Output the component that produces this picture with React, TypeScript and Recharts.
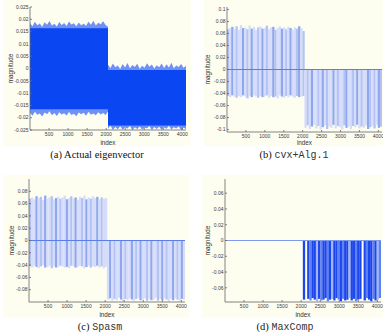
import React from "react"
import { ComposedChart, Area, Bar, Cell, XAxis, YAxis, ReferenceLine } from "recharts"

const xTicks = [500, 1000, 1500, 2000, 2500, 3000, 3500, 4000]

// (a) actual eigenvector, sampled envelope of the dense trace
const aIndex = [
  0, 64, 128, 192, 256, 320, 384, 448, 512, 576, 640, 704, 768, 832, 896, 960, 1024, 1088, 1152, 1216, 1280,
  1344, 1408, 1472, 1536, 1600, 1664, 1728, 1792, 1856, 1920, 1984, 2048,
  2048, 2112, 2176, 2240, 2304, 2368, 2432, 2496, 2560, 2624, 2688, 2752, 2816, 2880, 2944, 3008, 3072, 3136,
  3200, 3264, 3328, 3392, 3456, 3520, 3584, 3648, 3712, 3776, 3840, 3904, 3968, 4032, 4096,
]
const aUpper = [
  0.0185, 0.0172, 0.019, 0.0176, 0.0183, 0.017, 0.0188, 0.0178, 0.0193, 0.0175, 0.0182, 0.0171, 0.0189, 0.0177,
  0.0185, 0.0173, 0.0191, 0.0179, 0.0184, 0.0172, 0.0187, 0.0176, 0.0182, 0.0174, 0.019, 0.0178, 0.0194, 0.0175,
  0.0186, 0.018, 0.0192, 0.0177, 0.017,
  0.0015, 0.0002, 0.002, 0.0005, 0.0012, -0.0002, 0.0018, 0.0004, 0.0022, 0.0001, 0.0014, 0.0006, 0.0019, -0.0001,
  0.0011, 0.0003, 0.0021, 0.0007, 0.0016, 0.0, 0.0013, 0.0005, 0.002, 0.0002, 0.0017, 0.0004, 0.0023, 0.0001,
  0.0012, 0.0006, 0.0018, 0.0003, 0.001,
]
const aLower = [
  -0.018, -0.0192, -0.0176, -0.0188, -0.0183, -0.0195, -0.0179, -0.0186, -0.0174, -0.019, -0.0181, -0.0193, -0.0178,
  -0.0187, -0.0182, -0.0191, -0.0177, -0.0189, -0.0184, -0.0194, -0.0179, -0.0186, -0.018, -0.0192, -0.0176, -0.0188,
  -0.0183, -0.019, -0.0178, -0.0187, -0.0181, -0.0189, -0.0175,
  -0.0245, -0.0232, -0.025, -0.0238, -0.0247, -0.0235, -0.0249, -0.024, -0.0244, -0.0233, -0.0251, -0.0239, -0.0246,
  -0.0236, -0.0248, -0.0241, -0.0243, -0.0234, -0.025, -0.0238, -0.0246, -0.0237, -0.0249, -0.024, -0.0245, -0.0233,
  -0.0248, -0.0239, -0.0244, -0.0236, -0.025, -0.0241, -0.0246,
]
const aCoreTop = [0.0164, -0.0006]
const aCoreBottom = [-0.0166, -0.0232]

// (b)-(d) stems, one slot per ~57 indices
const stemIndex = [
  28, 85, 142, 199, 256, 313, 370, 427, 484, 541, 598, 655, 712, 769, 826, 883, 940, 997, 1054, 1111, 1168, 1225,
  1282, 1339, 1396, 1453, 1510, 1567, 1624, 1681, 1738, 1795, 1852, 1909, 1966, 2023,
  2076, 2133, 2190, 2247, 2304, 2361, 2418, 2475, 2532, 2589, 2646, 2703, 2760, 2817, 2874, 2931, 2988, 3045, 3102,
  3159, 3216, 3273, 3330, 3387, 3444, 3501, 3558, 3615, 3672, 3729, 3786, 3843, 3900, 3957, 4014, 4071,
]

const bUpper = [
  0.067, 0.069, 0.071, 0.068, 0.072, 0.066, 0.074, 0.069, 0.07, 0.067, 0.073, 0.068, 0.071, 0.066, 0.07, 0.072, 0.068,
  0.069, 0.073, 0.067, 0.07, 0.071, 0.066, 0.069, 0.072, 0.068, 0.07, 0.067, 0.071, 0.069, 0.066, 0.07, 0.068, 0.072,
  0.069, 0.064,
]
const bLower = [
  -0.044, -0.046, -0.043, -0.045, -0.047, -0.044, -0.046, -0.043, -0.045, -0.048, -0.044, -0.046, -0.043, -0.045,
  -0.047, -0.044, -0.046, -0.045, -0.043, -0.047, -0.044, -0.046, -0.045, -0.048, -0.043, -0.045, -0.047, -0.044,
  -0.046, -0.043, -0.045, -0.047, -0.044, -0.046, -0.045, -0.044,
]
const bDrop = [
  -0.097, -0.093, -0.099, -0.095, -0.092, -0.098, -0.094, -0.1, -0.096, -0.093, -0.099, -0.095, -0.097, -0.092, -0.098,
  -0.094, -0.096, -0.1, -0.093, -0.097, -0.095, -0.099, -0.094, -0.096, -0.092, -0.098, -0.095, -0.097, -0.093, -0.099,
  -0.096, -0.094, -0.098, -0.092, -0.097, -0.095,
]
const bDensity = [
  2, 1, 3, 1, 2, 1, 1, 3, 1, 2, 1, 3, 1, 1, 2, 1, 3, 1, 2, 1, 1, 3, 2, 1, 1, 3, 1, 2, 1, 3, 1, 1, 2, 3, 1, 2,
  1, 2, 1, 3, 1, 1, 2, 1, 3, 1, 2, 1, 1, 3, 1, 2, 1, 1, 2, 3, 1, 1, 2, 1, 3, 1, 2, 1, 1, 3, 2, 1, 2, 1, 3, 2,
]

const cUpper = [
  0.068, 0.07, 0.067, 0.072, 0.069, 0.071, 0.066, 0.073, 0.068, 0.07, 0.072, 0.067, 0.069, 0.071, 0.068, 0.07, 0.073,
  0.067, 0.069, 0.072, 0.068, 0.07, 0.066, 0.071, 0.069, 0.073, 0.067, 0.07, 0.068, 0.072, 0.069, 0.071, 0.067, 0.07,
  0.068, 0.069,
]
const cLower = [
  -0.042, -0.044, -0.041, -0.043, -0.045, -0.042, -0.04, -0.044, -0.043, -0.041, -0.045, -0.042, -0.044, -0.043,
  -0.041, -0.042, -0.044, -0.043, -0.045, -0.041, -0.042, -0.044, -0.043, -0.041, -0.042, -0.045, -0.043, -0.041,
  -0.044, -0.042, -0.043, -0.041, -0.044, -0.042, -0.045, -0.043,
]
const cDrop = [
  -0.096, -0.094, -0.098, -0.095, -0.097, -0.093, -0.096, -0.099, -0.095, -0.097, -0.094, -0.096, -0.098, -0.095,
  -0.093, -0.097, -0.096, -0.094, -0.098, -0.095, -0.097, -0.096, -0.093, -0.098, -0.095, -0.097, -0.094, -0.096,
  -0.099, -0.095, -0.097, -0.094, -0.096, -0.098, -0.095, -0.096,
]
const cDensity = [
  2, 1, 1, 3, 1, 2, 1, 3, 1, 1, 2, 1, 3, 1, 2, 1, 1, 3, 1, 2, 1, 3, 1, 1, 2, 1, 3, 1, 2, 1, 1, 3, 1, 2, 1, 1,
  1, 3, 1, 2, 1, 1, 3, 1, 2, 1, 1, 3, 1, 2, 1, 3, 1, 1, 2, 1, 3, 1, 1, 2, 1, 3, 1, 2, 1, 1, 3, 1, 2, 1, 3, 1,
]

// (d) only the second half is non-zero
const dDrop = [
  -0.075, 0, -0.074, -0.076, -0.073, -0.075, -0.077, -0.074, -0.076, -0.075, -0.073, -0.077, -0.075, -0.074, -0.076,
  -0.073, -0.075, -0.077, -0.074, -0.076, -0.075, -0.073, -0.076, -0.074, -0.077, -0.075, -0.074, 0, -0.076, -0.073,
  -0.075, -0.077, -0.074, -0.076, -0.075, -0.073,
]
const dDensity = [
  3, 0, 3, 2, 3, 3, 1, 3, 2, 3, 3, 2, 3, 1, 3, 3, 2, 3, 2, 3, 3, 1, 3, 3, 2, 3, 3, 0, 3, 2, 3, 3, 2, 3, 1, 2,
]

const yTicksA = [-0.025, -0.02, -0.015, -0.01, -0.005, 0, 0.005, 0.01, 0.015, 0.02, 0.025]
const yTicksB = [-0.1, -0.08, -0.06, -0.04, -0.02, 0, 0.02, 0.04, 0.06, 0.08, 0.1]
const yTicksC = [-0.08, -0.06, -0.04, -0.02, 0, 0.02, 0.04, 0.06, 0.08]
const yTicksD = [-0.06, -0.04, -0.02, 0, 0.02, 0.04, 0.06]

const aData = aIndex.map((x, i) => {
  const half = i < 33 ? 0 : 1
  return { x, spike: [aLower[i], aUpper[i]], core: [aCoreBottom[half], aCoreTop[half]] }
})

function stemRows(upper: number[], lower: number[], drop: number[], density: number[]) {
  return stemIndex.map((x, i) => ({
    x,
    range: i < 36 ? [lower[i], upper[i]] : [drop[i - 36], 0],
    density: density[i],
  }))
}

const bData = stemRows(bUpper, bLower, bDrop, bDensity)
const cData = stemRows(cUpper, cLower, cDrop, cDensity)
const dData = stemIndex.slice(36).map((x, i) => ({ x, range: [dDrop[i], 0], density: dDensity[i] }))

const lightTones = ["transparent", "#d6ddfa", "#b4c3f4", "#8ea7ee"]
const darkTones = ["transparent", "#a2b6f5", "#5f82f1", "#1d46ef"]

const CREAM = "#fdfdf0"
const AXIS = "#666"
const STEM = 2.3
const tickFont = { fontSize: 5, fill: "#3a3a3a", fontFamily: "Liberation Sans" }
const labelFont = { fontSize: 6.3, fill: "#333", fontFamily: "Liberation Sans" }

// bar shape that keeps the bar centred on its index but fills the whole slot
function Stem(props: any) {
  const { x, y, width, height, fill } = props
  if (x == null || y == null) return null
  const cx = x + width / 2
  const top = height < 0 ? y + height : y
  return <rect x={cx - STEM / 2} y={top} width={STEM} height={Math.abs(height)} fill={fill} />
}

interface PanelProps {
  left: number
  top: number
  width: number
  height: number
  yWidth: number
  xHeight: number
  right: number
  plotTop: number
  yDomain: [number, number]
  yTicks: number[]
  data: any[]
  magOffset: number
  children: React.ReactNode
}

function Panel({ left, top, width, height, yWidth, xHeight, right, plotTop, yDomain, yTicks, data, magOffset, children }: PanelProps) {
  return (
    <div style={{ position: "absolute", left, top, width, height, background: CREAM }}>
      <ComposedChart
        width={width}
        height={height}
        data={data}
        margin={{ top: plotTop, right, left: 0, bottom: 0 }}
        barCategoryGap={0}
        barGap={0}
      >
        <XAxis
          dataKey="x"
          type="number"
          domain={[0, 4096]}
          allowDataOverflow
          ticks={xTicks}
          interval={0}
          height={xHeight}
          tickSize={-2}
          tickMargin={4.5}
          tick={tickFont}
          stroke={AXIS}
          strokeWidth={0.8}
          label={{ value: "index", position: "insideBottom", offset: 1, style: labelFont }}
        />
        <XAxis
          xAxisId="top"
          orientation="top"
          type="number"
          domain={[0, 4096]}
          allowDataOverflow
          ticks={xTicks}
          interval={0}
          height={0}
          tickSize={-2}
          tickFormatter={() => ""}
          stroke={AXIS}
          strokeWidth={0.8}
        />
        <YAxis
          type="number"
          domain={yDomain}
          allowDataOverflow
          ticks={yTicks}
          interval={0}
          width={yWidth}
          tickSize={-2}
          tickMargin={3.5}
          tick={tickFont}
          stroke={AXIS}
          strokeWidth={0.8}
          label={{ value: "magnitude", angle: -90, position: "insideLeft", offset: magOffset, style: { ...labelFont, textAnchor: "middle" } }}
        />
        <YAxis
          yAxisId="right"
          orientation="right"
          type="number"
          domain={yDomain}
          allowDataOverflow
          ticks={yTicks}
          interval={0}
          width={0}
          tickSize={-2}
          tickFormatter={() => ""}
          stroke={AXIS}
          strokeWidth={0.8}
        />
        {children}
      </ComposedChart>
    </div>
  )
}

function Caption({ cx, cy, children }: { cx: number; cy: number; children: React.ReactNode }) {
  return (
    <div
      style={{
        position: "absolute",
        left: cx - 80,
        top: cy - 7,
        width: 160,
        lineHeight: "14px",
        textAlign: "center",
        fontFamily: '"Liberation Serif", "Times New Roman", "DejaVu Serif", serif',
        fontSize: 10.5,
        color: "#111",
        whiteSpace: "nowrap",
      }}
    >
      {children}
    </div>
  )
}

const mono = { fontFamily: '"Liberation Mono", "Courier New", monospace', fontSize: 10, color: "#333" }

export default function App() {
  return (
    <div style={{ position: "relative", width: 383, height: 333, background: "#fff", overflow: "hidden" }}>
      <style>{"body{margin:0}"}</style>

      <Panel left={3} top={0} width={188} height={146} yWidth={27} xHeight={16} right={5} plotTop={7}
        yDomain={[-0.025, 0.025]} yTicks={yTicksA} data={aData} magOffset={8}>
        <Area dataKey="spike" type="linear" stroke="none" fill="#6f90f4" fillOpacity={1} isAnimationActive={false} />
        <Area dataKey="core" type="linear" stroke="none" fill="#0a46f2" fillOpacity={1} isAnimationActive={false} />
      </Panel>
      <Caption cx={97} cy={155}>(a) Actual eigenvector</Caption>

      <Panel left={204} top={0} width={179} height={146} yWidth={23} xHeight={14} right={1} plotTop={7}
        yDomain={[-0.104, 0.104]} yTicks={yTicksB} data={bData} magOffset={4}>
        <Bar dataKey="range" shape={Stem} isAnimationActive={false}>
          {bData.map((d, i) => (
            <Cell key={`b-${i}`} fill={lightTones[d.density]} />
          ))}
        </Bar>
        <ReferenceLine y={0} stroke="#5b7fe8" strokeWidth={1} />
      </Panel>
      <Caption cx={294} cy={155}>
        (b) <span style={mono}>cvx+Alg.1</span>
      </Caption>

      <Panel left={3} top={175} width={186} height={143} yWidth={26} xHeight={16} right={4} plotTop={4}
        yDomain={[-0.1, 0.1]} yTicks={yTicksC} data={cData} magOffset={9}>
        <Bar dataKey="range" shape={Stem} isAnimationActive={false}>
          {cData.map((d, i) => (
            <Cell key={`c-${i}`} fill={lightTones[d.density]} />
          ))}
        </Bar>
        <ReferenceLine y={0} stroke="#5b7fe8" strokeWidth={1} />
      </Panel>
      <Caption cx={100} cy={327}>
        (c) <span style={mono}>Spasm</span>
      </Caption>

      <Panel left={202} top={175} width={181} height={143} yWidth={23} xHeight={16} right={2} plotTop={4}
        yDomain={[-0.078, 0.078]} yTicks={yTicksD} data={dData} magOffset={6}>
        <ReferenceLine y={0} stroke="#7f9bef" strokeWidth={1} />
        <Bar dataKey="range" shape={Stem} isAnimationActive={false}>
          {dData.map((d, i) => (
            <Cell key={`d-${i}`} fill={darkTones[d.density]} />
          ))}
        </Bar>
      </Panel>
      <Caption cx={285} cy={327}>
        (d) <span style={mono}>MaxComp</span>
      </Caption>
    </div>
  )
}
